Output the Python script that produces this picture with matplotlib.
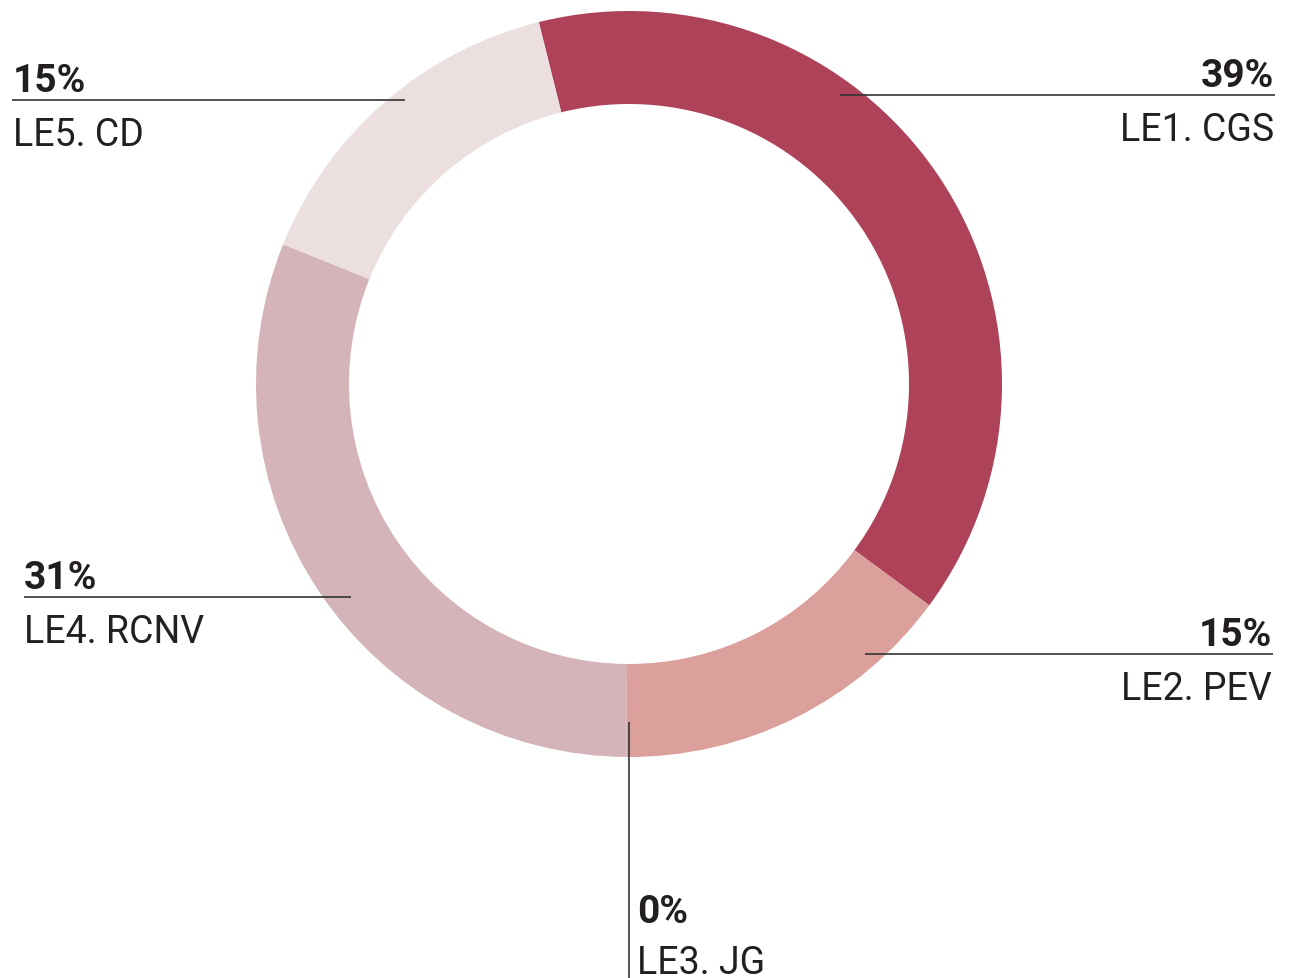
import matplotlib
matplotlib.use("Agg")
import matplotlib.pyplot as plt
from matplotlib import font_manager

# ---- data ----
categories = ["LE1. CGS", "LE2. PEV", "LE3. JG", "LE4. RCNV", "LE5. CD"]
values = [39, 15, 0, 31, 15]
pct_labels = ["39%", "15%", "0%", "31%", "15%"]
colors = ["#AE4259", "#DCA09C", "#C9A0A6", "#D4B4B8", "#ECDFE0"]

# ---- font ----
avail = {f.name for f in font_manager.fontManager.ttflist}
fams = [f for f in ["Liberation Sans Narrow", "Roboto", "DejaVu Sans"] if f in avail]
plt.rcParams["font.family"] = fams

W, H = 1290, 979
fig = plt.figure(figsize=(W / 100, H / 100), dpi=100)
ax = fig.add_axes([0, 0, 1, 1])

cx, cy = 629, H - 385
R = 373
ring = 93

ax.pie(values, colors=colors, startangle=104.0, counterclock=False,
       center=(cx, cy), radius=R,
       wedgeprops=dict(width=ring, edgecolor="none", linewidth=0))
ax.set_xlim(0, W)
ax.set_ylim(0, H)
ax.set_aspect("equal")
ax.axis("off")

txt_col = "#231F20"
line_col = "#333333"
fs = 27
fs_b = 28

# layout: (line y in px from top, x_start, x_end, text anchor x, ha)
layout = {
    0: (96, 840, 1275, 1274, "right"),
    1: (655, 865, 1273, 1272, "right"),
    3: (598, 24, 351, 24, "left"),
    4: (101, 12, 405, 13, "left"),
}
for i, (ly, x0, x1, tx, ha) in layout.items():
    y = H - ly
    ax.plot([x0, x1], [y, y], color=line_col, lw=1.2, solid_capstyle="butt")
    ax.text(tx, y + 9, pct_labels[i], ha=ha, va="baseline", fontsize=fs_b,
            fontweight="bold", color=txt_col)
    ax.text(tx, y - 45, categories[i], ha=ha, va="baseline", fontsize=fs,
            color=txt_col)

# LE3 vertical leader
ax.plot([629, 629], [H - 723, 0], color=line_col, lw=1.2, solid_capstyle="butt")
ax.text(637, H - 923, pct_labels[2], ha="left", va="baseline", fontsize=fs_b,
        fontweight="bold", color=txt_col)
ax.text(637, H - 974, categories[2], ha="left", va="baseline", fontsize=fs,
        color=txt_col)

fig.savefig("out.png", dpi=100, facecolor="white")
